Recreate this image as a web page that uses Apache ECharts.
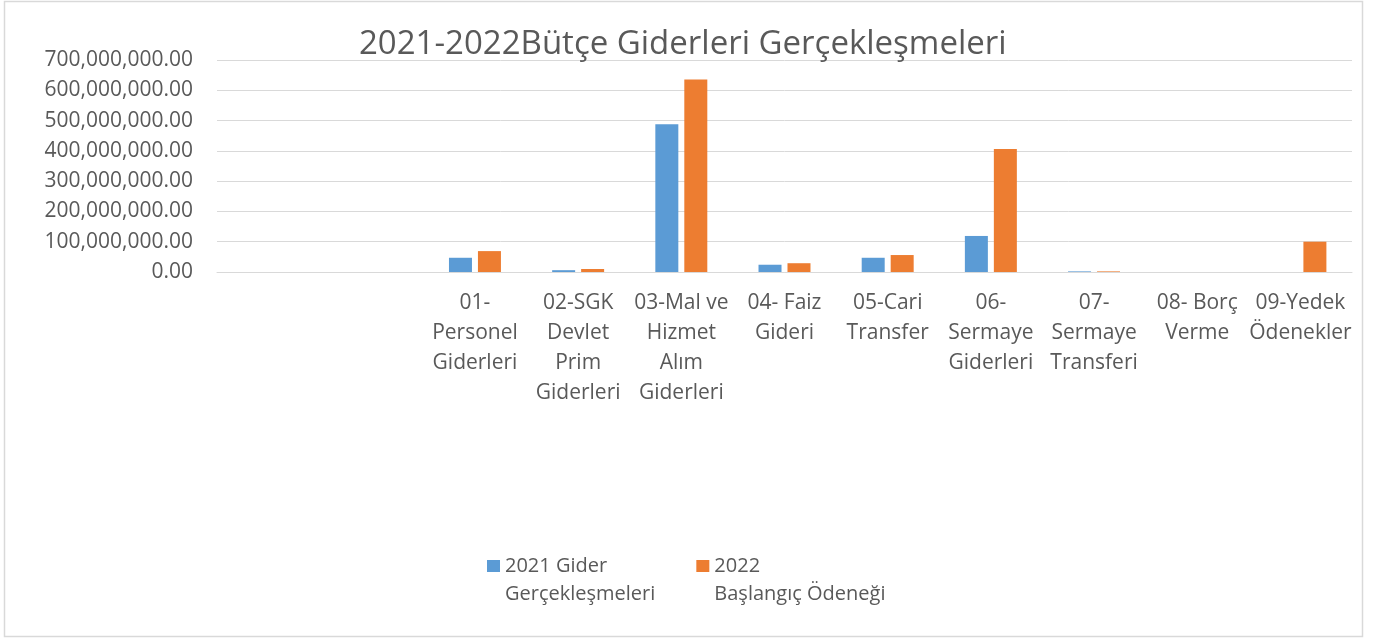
<!DOCTYPE html>
<html>
<head>
<meta charset="utf-8">
<script src="https://cdn.jsdelivr.net/npm/echarts@6/dist/echarts.min.js"></script>
<style>
  html, body { margin: 0; padding: 0; background: #fff; }
  #chart { width: 1380px; height: 639px; }
</style>
</head>
<body>
<div id="chart"></div>
<script>
// kategoriler (ilk iki kategori boş)
const categories = [
  '', ' ',
  '01-\nPersonel\nGiderleri',
  '02-SGK\nDevlet\nPrim\nGiderleri',
  '03-Mal ve\nHizmet\nAlım\nGiderleri',
  '04- Faiz\nGideri',
  '05-Cari\nTransfer',
  '06-\nSermaye\nGiderleri',
  '07-\nSermaye\nTransferi',
  '08- Borç\nVerme',
  '09-Yedek\nÖdenekler'
]
const seriesNames = ['2021 Gider\nGerçekleşmeleri', '2022\nBaşlangıç Ödeneği']
const gider2021 = [null, null, 47000000, 6000000, 488000000, 24000000, 47000000, 119000000, 2000000, 0, 0]
const odenek2022 = [null, null, 69000000, 10000000, 636000000, 29000000, 56000000, 406000000, 2000000, 0, 100000000]
const yTicks = { min: 0, max: 700000000, interval: 100000000 }

const textColor = '#595959'
const font = 'Open Sans'

const formatNum = (v) => v.toLocaleString('en-US', { minimumFractionDigits: 2, maximumFractionDigits: 2 })

const chart = echarts.init(document.getElementById('chart'))
chart.setOption({
  animation: false,
  title: {
    text: '2021-2022Bütçe Giderleri Gerçekleşmeleri',
    left: 354,
    top: 23,
    textStyle: { fontFamily: font, fontSize: 33, fontWeight: 'normal', color: textColor }
  },
  graphic: [{
    type: 'rect',
    shape: { x: 4.5, y: 1.5, width: 1358, height: 635 },
    style: { fill: null, stroke: '#d9d9d9', lineWidth: 1.5 },
    silent: true,
    z: -1
  }],
  legend: {
    data: seriesNames,
    left: 482,
    top: 519,
    itemGap: 41,
    itemWidth: 13,
    itemHeight: 12,
    icon: 'rect',
    // boş ilk satır: simge ilk metin satırıyla hizalansın
    formatter: (name) => '\n' + name,
    textStyle: {
      fontFamily: font, fontSize: 20, color: textColor, lineHeight: 28
    }
  },
  grid: { left: 217, right: 28, top: 60, bottom: 367 },
  xAxis: {
    type: 'category',
    data: categories,
    axisLine: { show: true, lineStyle: { color: '#d9d9d9', width: 1 } },
    axisTick: { show: false },
    axisLabel: {
      interval: 0,
      margin: 16,
      fontFamily: font,
      fontSize: 21,
      lineHeight: 30,
      color: textColor
    }
  },
  yAxis: {
    type: 'value',
    min: yTicks.min,
    max: yTicks.max,
    interval: yTicks.interval,
    axisLine: { show: false },
    axisTick: { show: false },
    splitLine: { lineStyle: { color: '#d9d9d9', width: 1 } },
    axisLabel: {
      margin: 24,
      fontFamily: font,
      fontSize: 21,
      color: textColor,
      formatter: formatNum
    }
  },
  series: [
    {
      name: seriesNames[0],
      type: 'bar',
      data: gider2021,
      barWidth: 23,
      barGap: '26%',
      itemStyle: { color: '#5b9bd5' }
    },
    {
      name: seriesNames[1],
      type: 'bar',
      data: odenek2022,
      barWidth: 23,
      itemStyle: { color: '#ed7d31' }
    }
  ]
})
</script>
</body>
</html>
